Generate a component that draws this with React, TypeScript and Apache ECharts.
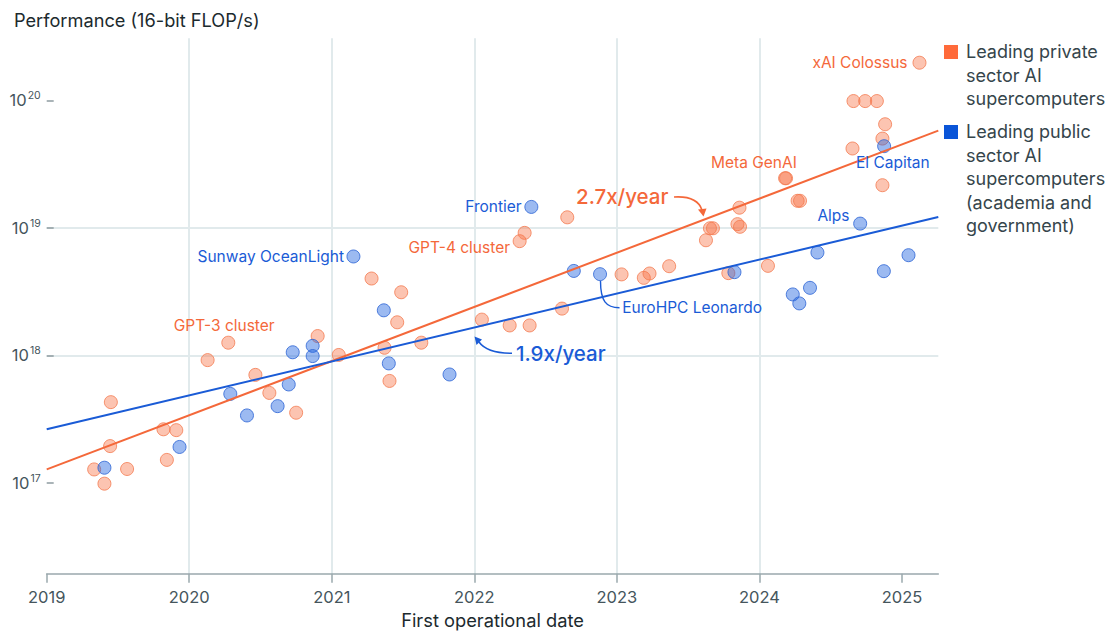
import React, { useEffect, useRef } from "react";
import * as echarts from "echarts";

// Decimal year of first operation, and 16-bit FLOP/s
const privateDates = [
  2019.333, 2019.564, 2019.405, 2019.445, 2019.45, 2019.819, 2019.909, 2019.843,
  2020.129, 2020.274, 2020.464, 2020.562, 2020.75, 2020.901, 2021.049, 2021.279,
  2021.37, 2021.405, 2021.459, 2021.487, 2021.628, 2022.053, 2022.248, 2022.388,
  2022.318, 2022.353, 2022.615, 2022.652, 2023.033, 2023.189, 2023.229, 2023.367,
  2023.625, 2023.653, 2023.674, 2023.846, 2023.864, 2023.86, 2023.782, 2024.06,
  2024.18, 2024.187, 2024.268, 2024.285, 2024.653, 2024.66, 2024.742, 2024.824,
  2024.863, 2024.882, 2024.863, 2025.123,
];
const privateFlops = [
  1.28e17, 1.29e17, 9.9e16, 1.95e17, 4.31e17, 2.64e17, 2.6e17, 1.52e17,
  9.2e17, 1.26e18, 7.05e17, 5.09e17, 3.56e17, 1.42e18, 1.01e18, 4.01e18,
  1.15e18, 6.32e17, 1.82e18, 3.13e18, 1.26e18, 1.91e18, 1.72e18, 1.72e18,
  7.87e18, 9.14e18, 2.33e18, 1.21e19, 4.32e18, 4.06e18, 4.39e18, 5.01e18,
  8.0e18, 9.93e18, 9.93e18, 1.07e19, 1.02e19, 1.44e19, 4.42e18, 5.04e18,
  2.45e19, 2.45e19, 1.63e19, 1.63e19, 4.19e19, 9.86e19, 9.86e19, 9.86e19,
  5.01e19, 6.49e19, 2.16e19, 1.97e20,
];
const publicDates = [
  2019.405, 2019.932, 2020.288, 2020.405, 2020.62, 2020.698, 2020.726, 2020.866,
  2020.866, 2021.152, 2021.365, 2021.4, 2021.826, 2022.4, 2022.698, 2022.882,
  2023.825, 2024.234, 2024.28, 2024.355, 2024.407, 2024.707, 2024.873, 2024.875,
  2025.046,
];
const publicFlops = [
  1.32e17, 1.92e17, 5.0e17, 3.39e17, 4.01e17, 5.93e17, 1.06e18, 1.19e18,
  9.9e17, 5.97e18, 2.26e18, 8.67e17, 7.1e17, 1.46e19, 4.6e18, 4.34e18,
  4.5e18, 3.01e18, 2.56e18, 3.39e18, 6.41e18, 1.08e19, 4.58e18, 4.37e19,
  6.11e18,
];

// Trend lines (fitted growth): 2.7x/year private, 1.9x/year public
const trendDates = [2019, 2025.255];
const privateTrend = [1.28e17, 5.79e19];
const publicTrend = [2.64e17, 1.216e19];

const yearTicks = [2019, 2020, 2021, 2022, 2023, 2024, 2025];
const powerTicks = [1e17, 1e18, 1e19, 1e20];
const xMin = 2019;
const xMax = 2025.255;
const yMin = 1.95e16;
const yMax = 3.06e20;

const ORANGE = "#f4683a";
const BLUE = "#1a5bd6";
const FONT = "Inter, 'Noto Sans', sans-serif";
const TICK_TEXT = "#45555c";
const DARK = "#1c2a2e";

export default function App() {
  const ref = useRef<HTMLDivElement>(null);

  useEffect(() => {
    if (!ref.current) return;
    const chart = echarts.init(ref.current, undefined, { renderer: "svg" });

    const privateData = privateDates.map((d, i) => [d, privateFlops[i]]);
    const publicData = publicDates.map((d, i) => [d, publicFlops[i]]);

    const labelText = (
      text: string,
      x: number,
      y: number,
      color: string,
      align: string = "left",
      size = 15.5,
      weight: any = "normal"
    ) => ({
      type: "text",
      x,
      y,
      z: 100,
      style: {
        text,
        fill: color,
        font: `${weight} ${size}px ${FONT}`,
        align,
        verticalAlign: "middle",
      },
    });

    const option: any = {
      animation: false,
      backgroundColor: "#ffffff",
      title: {
        text: "Performance (16-bit FLOP/s)",
        left: 9,
        top: 6,
        textStyle: { fontFamily: FONT, fontSize: 18.2, fontWeight: "normal", color: DARK },
      },
      grid: {
        left: 46.7,
        right: 177.7,
        top: 38.3,
        bottom: 60.3,
        containLabel: false,
      },
      xAxis: {
        type: "value",
        min: xMin,
        max: xMax,
        interval: 1,
        name: "First operational date",
        nameLocation: "middle",
        nameGap: 37,
        nameTextStyle: { fontFamily: FONT, fontSize: 18.3, color: DARK },
        axisLine: { show: true, lineStyle: { color: "#9aa8ad", width: 1.5 } },
        axisTick: {
          show: true,
          length: 9,
          customValues: yearTicks,
          lineStyle: { color: "#9aa8ad", width: 1.5 },
        },
        axisLabel: {
          customValues: yearTicks,
          margin: 15,
          fontFamily: FONT,
          fontSize: 16.5,
          color: TICK_TEXT,
          formatter: (v: number) => String(Math.round(v)),
        },
        splitLine: {
          show: true,
          showMinLine: false,
          showMaxLine: false,
          lineStyle: { color: "#e1eaec", width: 2 },
        },
      },
      yAxis: {
        type: "log",
        logBase: 10,
        min: yMin,
        max: yMax,
        axisLine: { show: false },
        axisTick: {
          show: true,
          inside: true,
          length: 7,
          customValues: powerTicks,
          lineStyle: { color: "#8e9ba0", width: 1.5 },
        },
        axisLabel: {
          customValues: powerTicks,
          margin: 6,
          formatter: (v: number) => {
            const e = Math.log10(v);
            const r = Math.round(e);
            if (Math.abs(e - r) > 1e-6) return "";
            return `{b|10}{s|${r}}`;
          },
          rich: {
            b: { fontFamily: FONT, fontSize: 16.5, color: TICK_TEXT, lineHeight: 20 },
            s: {
              fontFamily: FONT,
              fontSize: 10.5,
              color: TICK_TEXT,
              lineHeight: 12,
              verticalAlign: "top",
              padding: [0, 0, 0, 1],
            },
          },
        },
        splitLine: {
          show: true,
          showMinLine: false,
          showMaxLine: false,
          lineStyle: { color: "#e1eaec", width: 2 },
        },
      },
      series: [
        {
          name: "Leading private sector AI supercomputers",
          type: "scatter",
          data: privateData,
          symbolSize: 13,
          z: 3,
          itemStyle: {
            color: "rgba(248,112,68,0.52)",
            borderColor: "#f47a50",
            borderWidth: 1,
          },
        },
        {
          name: "Leading public sector AI supercomputers (academia and government)",
          type: "scatter",
          data: publicData,
          symbolSize: 13,
          z: 4,
          itemStyle: {
            color: "rgba(30,98,222,0.55)",
            borderColor: "#2a63d4",
            borderWidth: 1,
          },
        },
        {
          name: "Private trend",
          type: "line",
          data: trendDates.map((d, i) => [d, privateTrend[i]]),
          showSymbol: false,
          symbol: "none",
          z: 5,
          lineStyle: { color: ORANGE, width: 2 },
        },
        {
          name: "Public trend",
          type: "line",
          data: trendDates.map((d, i) => [d, publicTrend[i]]),
          showSymbol: false,
          symbol: "none",
          z: 5,
          lineStyle: { color: BLUE, width: 2 },
        },
      ],
      graphic: [
        // Legend
        { type: "rect", shape: { x: 944, y: 45, width: 14, height: 14 }, style: { fill: "#ff6a3a" } },
        {
          type: "text",
          x: 966,
          y: 40,
          style: {
            text: "Leading private\nsector AI\nsupercomputers",
            fill: "#35454b",
            font: `normal 18px ${FONT}`,
            lineHeight: 23.5,
            verticalAlign: "top",
          },
        },
        { type: "rect", shape: { x: 944, y: 125, width: 14, height: 14 }, style: { fill: "#0a55d8" } },
        {
          type: "text",
          x: 966,
          y: 120,
          style: {
            text: "Leading public\nsector AI\nsupercomputers\n(academia and\ngovernment)",
            fill: "#35454b",
            font: `normal 18px ${FONT}`,
            lineHeight: 23.5,
            verticalAlign: "top",
          },
        },
        // Point annotations
        labelText("xAI Colossus", 907.5, 62.3, ORANGE, "right"),
        labelText("Meta GenAI", 711, 162.7, ORANGE),
        labelText("El Capitan", 856, 162.7, BLUE),
        labelText("Alps", 849.5, 215, BLUE, "right"),
        labelText("Frontier", 521.7, 206.7, BLUE, "right"),
        labelText("GPT-4 cluster", 510, 247.7, ORANGE, "right"),
        labelText("Sunway OceanLight", 344, 256.3, BLUE, "right"),
        labelText("GPT-3 cluster", 173.7, 325, ORANGE),
        labelText("EuroHPC Leonardo", 622.3, 307.7, BLUE),
        // Growth rate labels
        labelText("2.7x/year", 576, 196.7, ORANGE, "left", 20.5, 500),
        labelText("1.9x/year", 516, 353.3, BLUE, "left", 20.5, 500),
        // Arrows
        {
          type: "bezierCurve",
          z: 100,
          shape: { x1: 674, y1: 197, cpx1: 690, cpy1: 196, cpx2: 699, cpy2: 201, x2: 702, y2: 210 },
          style: { stroke: ORANGE, lineWidth: 1.6, fill: null },
        },
        {
          type: "polygon",
          z: 100,
          shape: { points: [[703.5, 216.5], [698, 209.5], [706.5, 208.5]] },
          style: { fill: ORANGE },
        },
        {
          type: "bezierCurve",
          z: 100,
          shape: { x1: 512, y1: 353.3, cpx1: 495, cpy1: 353.3, cpx2: 484, cpy2: 349, x2: 479, y2: 342 },
          style: { stroke: BLUE, lineWidth: 1.6, fill: null },
        },
        {
          type: "polygon",
          z: 100,
          shape: { points: [[474.5, 336.5], [482, 339.5], [476.5, 345]] },
          style: { fill: BLUE },
        },
        {
          type: "bezierCurve",
          z: 100,
          shape: { x1: 600.5, y1: 281, cpx1: 600.5, cpy1: 301, cpx2: 606, cpy2: 307.7, x2: 619.5, y2: 307.7 },
          style: { stroke: BLUE, lineWidth: 1.4, fill: null },
        },
      ],
    };

    chart.setOption(option);
    return () => chart.dispose();
  }, []);

  return (
    <div
      ref={ref}
      style={{ position: "fixed", left: 0, top: 0, width: 1116, height: 634, background: "#fff" }}
    />
  );
}
